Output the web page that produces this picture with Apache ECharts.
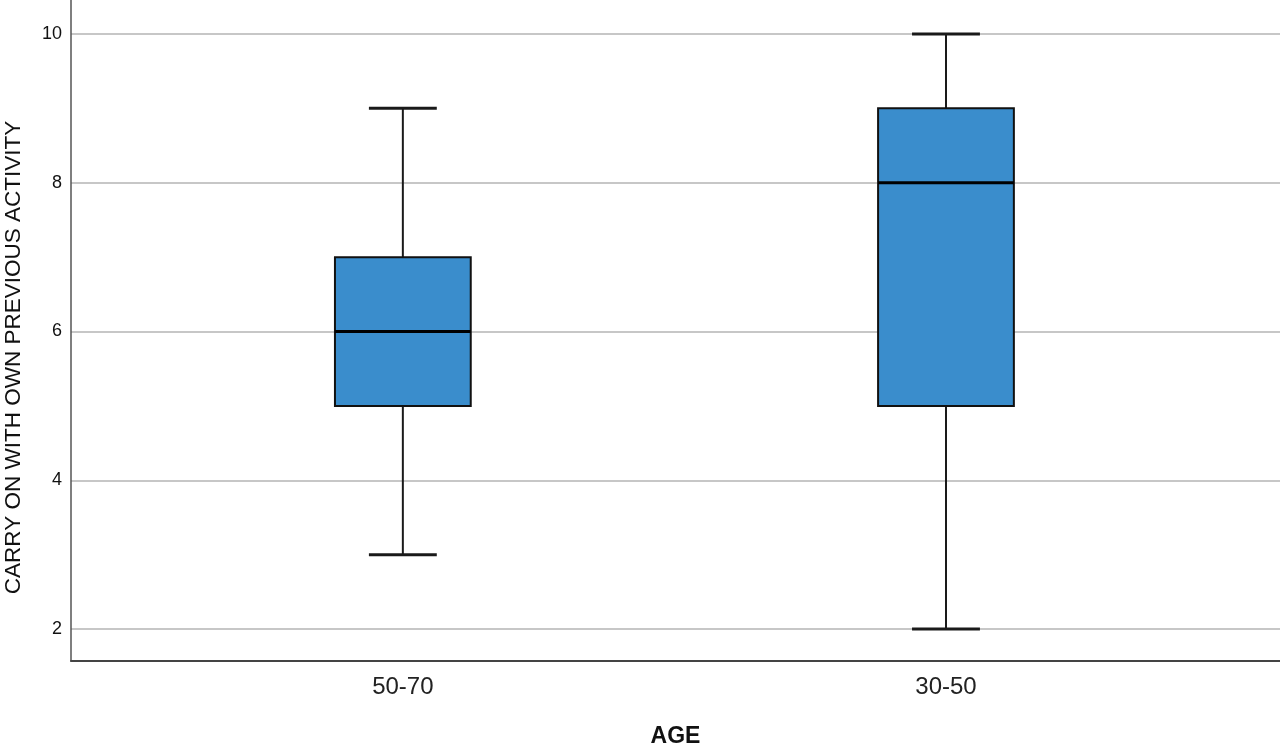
<!DOCTYPE html>
<html>
<head>
<meta charset="utf-8">
<script src="https://cdn.jsdelivr.net/npm/echarts@6/dist/echarts.min.js"></script>
<style>
html,body{margin:0;padding:0;background:#fff;}
#chart{width:1280px;height:745px;}
</style>
</head>
<body>
<div id="chart"></div>
<script>
const categories = ['50-70', '30-50'];
const minVals = [3, 2];
const q1Vals = [5, 5];
const medianVals = [6, 8];
const q3Vals = [7, 9];
const maxVals = [9, 10];
const yTicks = [2, 4, 6, 8, 10];

const seriesData = categories.map((c, i) => [i, minVals[i], q1Vals[i], medianVals[i], q3Vals[i], maxVals[i]]);

function renderBox(params, api) {
  const x = api.value(0);
  const unit = api.size([1, 0])[0];
  const boxW = unit * 0.25;
  const capW = boxW / 2;
  const pMin = api.coord([x, api.value(1)]);
  const pQ1 = api.coord([x, api.value(2)]);
  const pMed = api.coord([x, api.value(3)]);
  const pQ3 = api.coord([x, api.value(4)]);
  const pMax = api.coord([x, api.value(5)]);
  const cx = pMed[0];
  const lineStroke = '#1a1a1a';
  return {
    type: 'group',
    children: [
      { type: 'line', shape: { x1: cx, y1: pQ3[1], x2: cx, y2: pMax[1] }, style: { stroke: lineStroke, lineWidth: 2 } },
      { type: 'line', shape: { x1: cx, y1: pQ1[1], x2: cx, y2: pMin[1] }, style: { stroke: lineStroke, lineWidth: 2 } },
      { type: 'line', shape: { x1: cx - capW / 2, y1: pMax[1], x2: cx + capW / 2, y2: pMax[1] }, style: { stroke: lineStroke, lineWidth: 3 } },
      { type: 'line', shape: { x1: cx - capW / 2, y1: pMin[1], x2: cx + capW / 2, y2: pMin[1] }, style: { stroke: lineStroke, lineWidth: 3 } },
      { type: 'rect', shape: { x: cx - boxW / 2, y: pQ3[1], width: boxW, height: pQ1[1] - pQ3[1] }, style: { fill: '#3a8dcc', stroke: '#111', lineWidth: 2 } },
      { type: 'line', shape: { x1: cx - boxW / 2, y1: pMed[1], x2: cx + boxW / 2, y2: pMed[1] }, style: { stroke: '#000', lineWidth: 3 } }
    ]
  };
}

const chart = echarts.init(document.getElementById('chart'));
chart.setOption({
  backgroundColor: '#fff',
  animation: false,
  textStyle: { fontFamily: 'Liberation Sans, Arial, sans-serif' },
  grid: { left: 71, right: 0, top: 0, bottom: 84, containLabel: false, outerBoundsMode: 'none' },
  xAxis: {
    type: 'value',
    min: -0.611,
    max: 1.615,
    name: 'AGE',
    nameLocation: 'middle',
    nameGap: 64,
    nameTextStyle: { fontSize: 23, fontWeight: 'bold', color: '#111' },
    axisLine: { show: true, onZero: false, lineStyle: { color: '#444', width: 2 } },
    axisTick: { show: false },
    splitLine: { show: false },
    axisLabel: {
      customValues: [0, 1],
      formatter: v => categories[Math.round(v)],
      fontSize: 24,
      color: '#222',
      margin: 14
    }
  },
  yAxis: {
    type: 'value',
    min: 1.57,
    max: 10.457,
    name: 'CARRY ON WITH OWN PREVIOUS ACTIVITY',
    nameLocation: 'middle',
    nameGap: 46,
    nameTextStyle: { fontSize: 22.5, color: '#111', padding: [0, 54, 0, 0] },
    axisLine: { show: true, onZero: false, lineStyle: { color: '#555', width: 1.5 } },
    axisTick: { show: false, customValues: yTicks },
    axisLabel: { customValues: yTicks, fontSize: 18, color: '#111', margin: 9 },
    splitLine: { show: true, lineStyle: { color: '#b4b4b4', width: 1.5 } }
  },
  series: [{
    type: 'custom',
    renderItem: renderBox,
    data: seriesData,
    encode: { x: 0, y: [1, 2, 3, 4, 5] }
  }]
});
</script>
</body>
</html>
